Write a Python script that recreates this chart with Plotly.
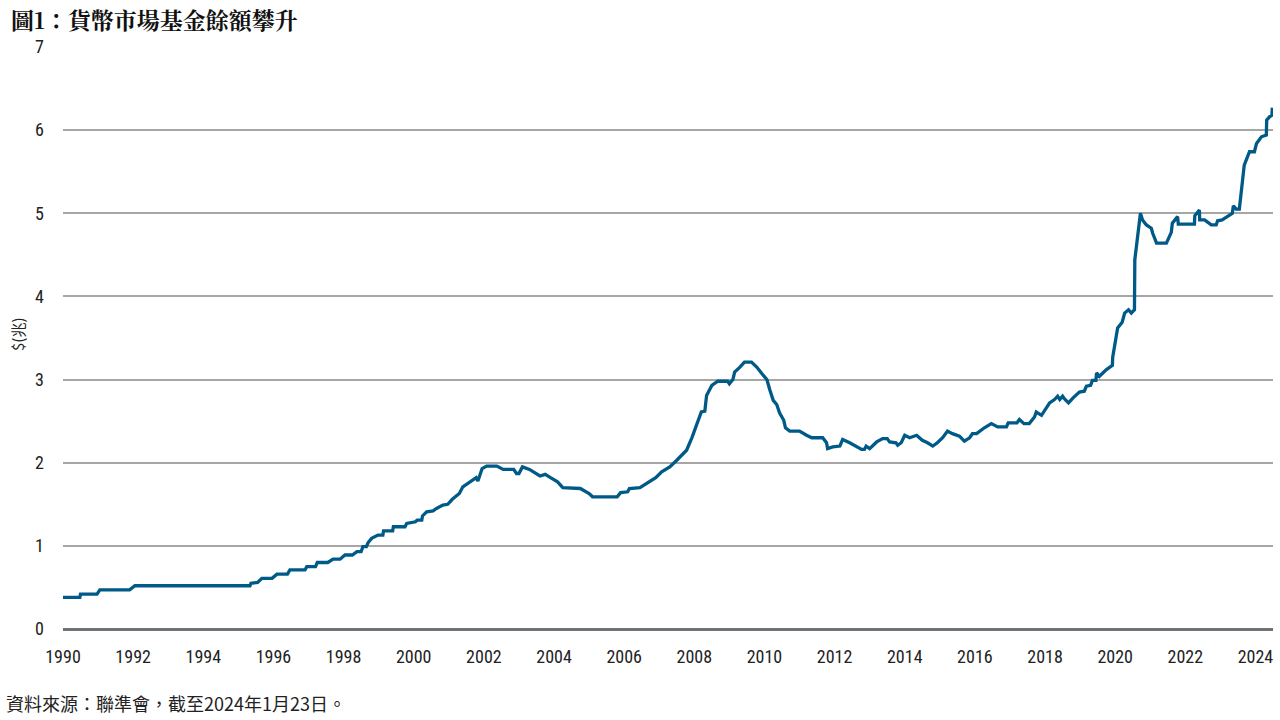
import plotly.graph_objects as go

title_text = "圖1：貨幣市場基金餘額攀升"
source_text = "資料來源：聯準會，截至2024年1月23日。"
y_label = "$(兆)"

years = [
    1990.0, 1990.48, 1990.5, 1990.97, 1991.05, 1991.9, 1992.05, 1995.33, 1995.36, 1995.55,
    1995.67, 1995.96, 1996.1, 1996.4, 1996.47, 1996.9, 1996.95, 1997.2, 1997.25, 1997.55,
    1997.7, 1997.9, 1998.04, 1998.25, 1998.38, 1998.5, 1998.55, 1998.65, 1998.7, 1998.8,
    1998.98, 1999.12, 1999.14, 1999.4, 1999.42, 1999.75, 1999.8, 2000.05, 2000.1, 2000.23,
    2000.25, 2000.37, 2000.55, 2000.65, 2000.83, 2000.97, 2001.1, 2001.3, 2001.4, 2001.6,
    2001.78, 2001.83, 2001.95, 2002.08, 2002.37, 2002.55, 2002.85, 2002.93, 2003.0, 2003.1,
    2003.3, 2003.6, 2003.75, 2003.9, 2004.1, 2004.25, 2004.75, 2005.0, 2005.1, 2005.8,
    2005.9, 2006.1, 2006.15, 2006.45, 2006.65, 2006.9, 2007.07, 2007.3, 2007.5, 2007.67,
    2007.78, 2007.93, 2008.07, 2008.2, 2008.3, 2008.35, 2008.5, 2008.67, 2008.95, 2009.0,
    2009.1, 2009.15, 2009.3, 2009.43, 2009.63, 2009.78, 2009.93, 2010.07, 2010.15, 2010.25,
    2010.35, 2010.43, 2010.55, 2010.6, 2010.72, 2011.0, 2011.2, 2011.35, 2011.66, 2011.77,
    2011.8, 2011.95, 2012.15, 2012.23, 2012.43, 2012.66, 2012.77, 2012.85, 2012.9, 2013.0,
    2013.2, 2013.37, 2013.5, 2013.57, 2013.75, 2013.8, 2013.9, 2014.0, 2014.14, 2014.34,
    2014.5, 2014.65, 2014.8, 2014.93, 2015.08, 2015.22, 2015.36, 2015.56, 2015.7, 2015.85,
    2015.93, 2016.05, 2016.27, 2016.47, 2016.65, 2016.9, 2016.95, 2017.2, 2017.27, 2017.4,
    2017.55, 2017.7, 2017.75, 2017.9, 2018.04, 2018.13, 2018.27, 2018.36, 2018.42, 2018.5,
    2018.55, 2018.67, 2018.8, 2018.98, 2019.12, 2019.18, 2019.3, 2019.35, 2019.45, 2019.47,
    2019.55, 2019.75, 2019.92, 2019.93, 2020.07, 2020.2, 2020.27, 2020.38, 2020.46, 2020.55,
    2020.56, 2020.72, 2020.78, 2020.89, 2021.03, 2021.07, 2021.18, 2021.46, 2021.6, 2021.63,
    2021.78, 2021.8, 2022.26, 2022.27, 2022.4, 2022.41, 2022.55, 2022.74, 2022.88, 2022.92,
    2023.05, 2023.34, 2023.37, 2023.45, 2023.54, 2023.68, 2023.83, 2023.97, 2024.03, 2024.17,
    2024.31, 2024.32, 2024.4, 2024.47, 2024.48,
]

balances = [
    0.38, 0.38, 0.42, 0.42, 0.47, 0.47, 0.52, 0.52, 0.55, 0.56,
    0.61, 0.61, 0.66, 0.66, 0.71, 0.71, 0.75, 0.75, 0.80, 0.80,
    0.84, 0.84, 0.89, 0.89, 0.93, 0.93, 0.99, 0.99, 1.04, 1.09,
    1.13, 1.13, 1.18, 1.18, 1.23, 1.23, 1.27, 1.29, 1.31, 1.31,
    1.36, 1.41, 1.42, 1.45, 1.49, 1.50, 1.56, 1.63, 1.71, 1.77,
    1.82, 1.78, 1.93, 1.96, 1.96, 1.92, 1.92, 1.87, 1.87, 1.95,
    1.92, 1.84, 1.86, 1.82, 1.77, 1.70, 1.69, 1.63, 1.59, 1.59,
    1.64, 1.65, 1.69, 1.70, 1.75, 1.82, 1.89, 1.95, 2.03, 2.11,
    2.15, 2.30, 2.47, 2.61, 2.62, 2.81, 2.93, 2.98, 2.98, 2.95,
    3.00, 3.09, 3.15, 3.21, 3.21, 3.15, 3.07, 3.00, 2.88, 2.75,
    2.70, 2.60, 2.51, 2.42, 2.38, 2.38, 2.33, 2.30, 2.30, 2.24,
    2.17, 2.19, 2.20, 2.28, 2.24, 2.19, 2.16, 2.16, 2.20, 2.17,
    2.25, 2.29, 2.29, 2.25, 2.24, 2.21, 2.24, 2.33, 2.30, 2.33,
    2.27, 2.24, 2.20, 2.24, 2.30, 2.38, 2.35, 2.32, 2.26, 2.30,
    2.35, 2.35, 2.42, 2.47, 2.43, 2.43, 2.48, 2.48, 2.52, 2.47,
    2.47, 2.55, 2.61, 2.57, 2.66, 2.72, 2.76, 2.80, 2.76, 2.80,
    2.77, 2.72, 2.78, 2.85, 2.86, 2.92, 2.93, 2.99, 2.99, 3.08,
    3.04, 3.12, 3.17, 3.27, 3.62, 3.69, 3.80, 3.84, 3.80, 3.84,
    4.44, 5.00, 4.92, 4.86, 4.82, 4.76, 4.64, 4.64, 4.77, 4.88,
    4.96, 4.87, 4.87, 4.97, 5.04, 4.92, 4.92, 4.86, 4.86, 4.91,
    4.92, 5.00, 5.09, 5.05, 5.05, 5.58, 5.74, 5.74, 5.84, 5.92,
    5.94, 6.12, 6.16, 6.18, 6.27,
]

x_ticks = list(range(1990, 2025, 2))
x_tick_labels = [str(y) for y in x_ticks]
y_ticks = [0, 1, 2, 3, 4, 5, 6, 7]

tick_font = dict(family="Liberation Sans Narrow, Roboto Condensed, Arial Narrow, Roboto, sans-serif",
                 size=18, color="#222222")

fig = go.Figure()
fig.add_trace(go.Scatter(
    x=years, y=balances, mode="lines",
    line=dict(color="#005A87", width=3.3),
    showlegend=False, hoverinfo="x+y",
))

L, R, T, B = 63, 7, 47, 91
W, H = 1280, 720
pw, ph = W - L - R, H - T - B

fig.update_layout(
    width=W, height=H,
    margin=dict(l=L, r=R, t=T, b=B),
    paper_bgcolor="white", plot_bgcolor="white",
    xaxis=dict(
        range=[1990, 2024.5], tickmode="array", tickvals=x_ticks, ticktext=x_tick_labels,
        showgrid=False, zeroline=False, showline=False, ticks="",
        tickfont=tick_font, ticklabelstandoff=15,
    ),
    yaxis=dict(
        range=[0, 7], tickmode="array", tickvals=y_ticks,
        showgrid=True, gridcolor="#A6A6A6", gridwidth=1.6,
        zeroline=True, zerolinecolor="#6E7378", zerolinewidth=3,
        showline=False, ticks="", tickfont=tick_font, ticklabelstandoff=18,
    ),
    annotations=[
        dict(text="<b>" + title_text + "</b>", xref="paper", yref="paper",
             x=(9 - L) / pw, y=(H - B - 20) / ph, xanchor="left", yanchor="middle",
             showarrow=False,
             font=dict(family="Noto Serif CJK TC, Noto Sans CJK TC, sans-serif", size=23, color="#111111")),
        dict(text=y_label, xref="paper", yref="paper",
             x=(17 - L) / pw, y=(H - B - 335) / ph, xanchor="center", yanchor="middle",
             textangle=-90, showarrow=False,
             font=dict(family="Noto Sans CJK TC, sans-serif", size=15, color="#222222")),
        dict(text=source_text, xref="paper", yref="paper",
             x=(4 - L) / pw, y=(H - B - 703) / ph, xanchor="left", yanchor="middle",
             showarrow=False,
             font=dict(family="Noto Sans CJK TC, sans-serif", size=18, color="#222222")),
    ],
)

fig.write_html("out.html", config={"displayModeBar": False},
               post_script="document.body.style.margin='0';document.body.style.overflow='hidden';")
